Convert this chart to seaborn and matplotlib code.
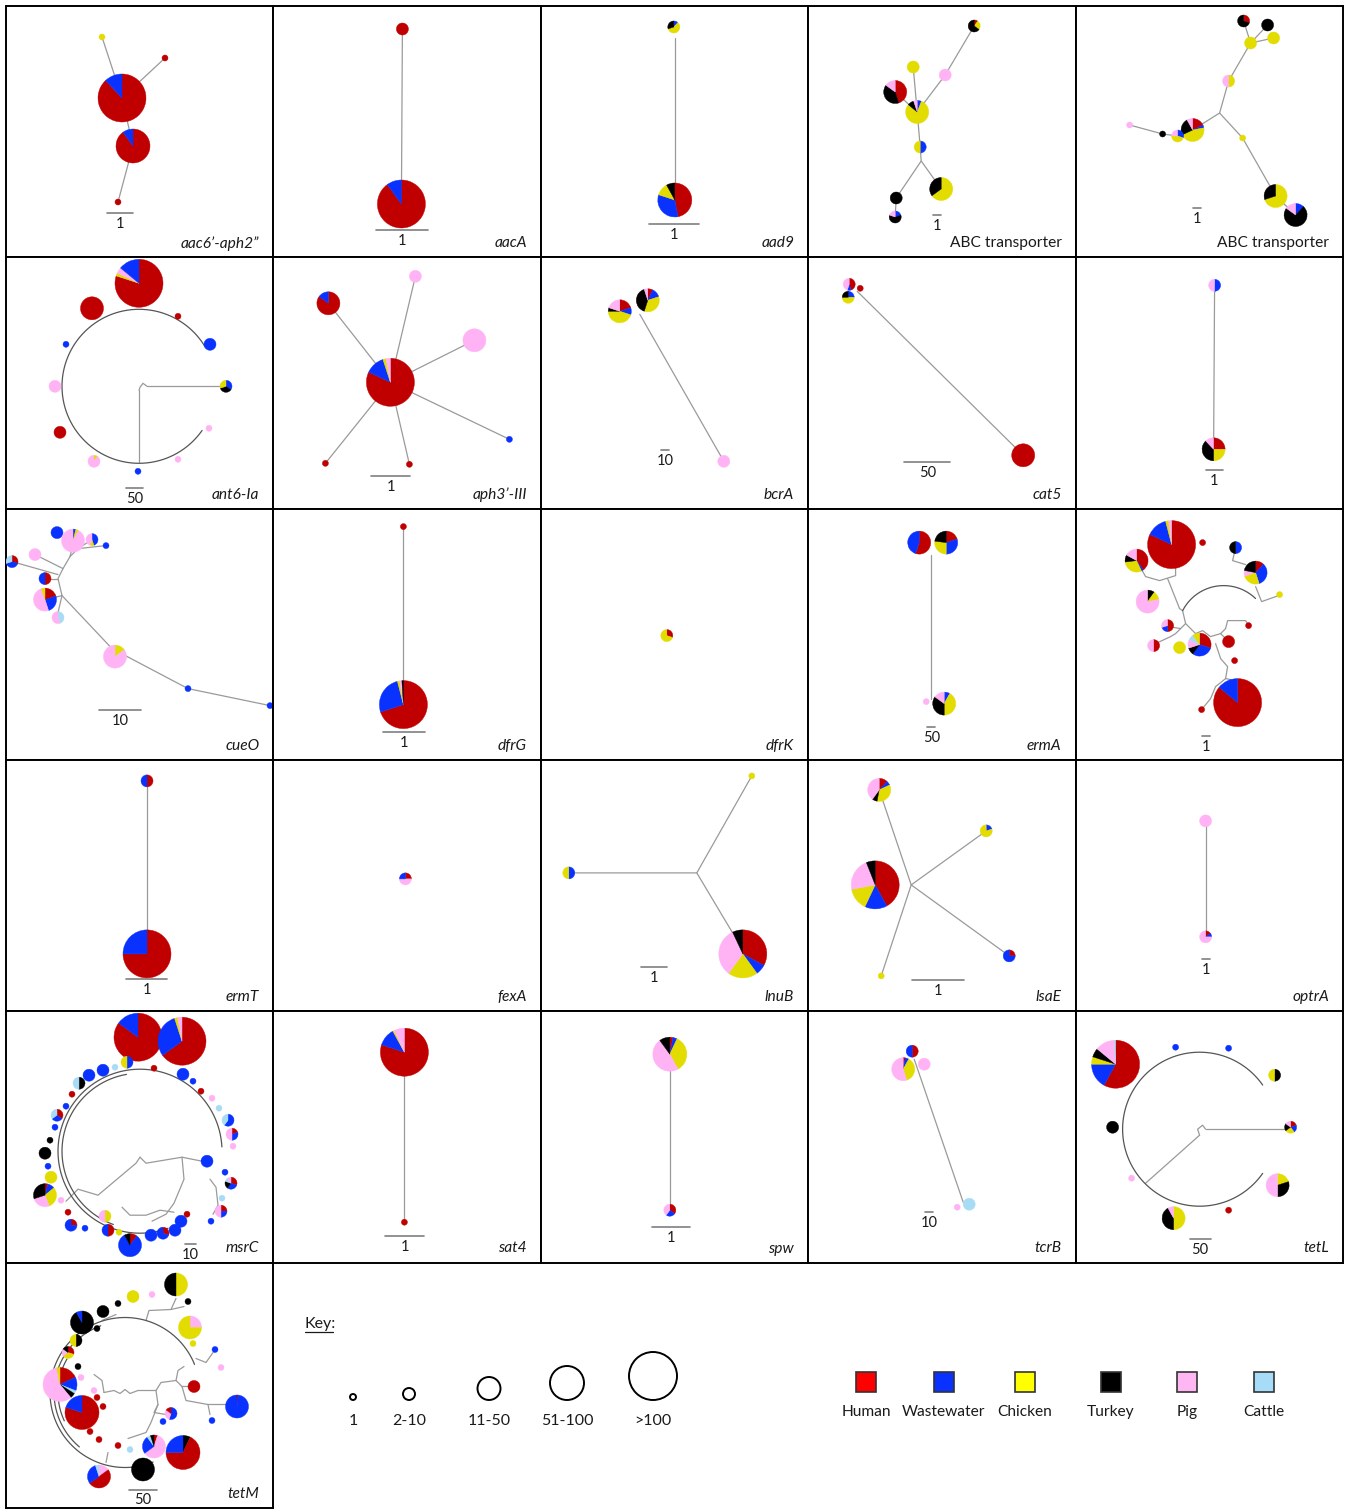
import numpy as np
import matplotlib
matplotlib.use("Agg")
import matplotlib.pyplot as plt
from matplotlib.patches import Wedge, Circle, Rectangle
import seaborn as sns

sns.set_theme(style="white")
plt.rcParams["font.family"] = ["Lato", "DejaVu Sans"]

# =============================================================================
# DATA
# =============================================================================

# sources and their short codes used in the node compositions
sources = ["Human", "Wastewater", "Chicken", "Turkey", "Pig", "Cattle"]
codes = ["H", "W", "C", "T", "P", "K"]
size_classes = ["1", "2-10", "11-50", "51-100", ">100"]

# nodes: (x, y, size class 1-5, composition clockwise from 12 o'clock)
# x, y are in panel pixels (origin top-left of the panel)
aac6_nodes = [(96, 31, 1, "C"), (159, 52, 1, "H"),
              (116, 92, 5, {"H": .88, "W": .12}),
              (127, 140, 4, {"H": .9, "W": .1}), (112, 196, 1, "H")]
aac6_edges = [(0, 2), (1, 2), (2, 3), (3, 4)]

aacA_nodes = [(129, 23, 2, "H"), (128, 198, 5, {"H": .9, "W": .1})]
aacA_edges = [(0, 1)]

aad9_nodes = [(133, 21, 2, {"W": .12, "C": .58, "T": .3}),
              (134, 194, 4, {"H": .47, "W": .33, "C": .12, "T": .08})]
aad9_lines = [[(134, 32), (134, 178)]]

abc1_nodes = [(166, 20, 2, {"H": .1, "C": .25, "T": .65}), (105, 61, 2, "C"),
              (137, 69, 2, "P"), (87, 86, 3, {"H": .45, "T": .4, "P": .15}),
              (109, 106, 3, {"W": .06, "C": .8, "T": .09, "P": .05}),
              (112, 141, 2, {"W": .5, "C": .5}), (88, 192, 2, "T"),
              (133, 183, 3, {"C": .65, "T": .35}),
              (87, 211, 2, {"W": .2, "T": .6, "P": .2})]
abc1_edges = [(0, 2), (2, 4), (1, 4), (3, 4), (4, 5), (6, 8)]
abc1_lines = [[(112, 141), (113, 155), (88, 192)], [(113, 155), (133, 183)]]

abc2_nodes = [(168, 15, 2, {"H": .3, "T": .7}), (192, 19, 2, "T"),
              (175, 37, 2, "C"), (198, 32, 2, "C"),
              (153, 75, 2, {"C": .5, "P": .5}), (167, 132, 1, "C"),
              (200, 190, 3, {"C": .7, "T": .3}),
              (220, 209, 3, {"W": .12, "T": .73, "P": .15}),
              (117, 124, 3, {"H": .18, "W": .04, "C": .46, "T": .24, "P": .08}),
              (102, 130, 2, {"W": .3, "C": .45, "P": .25}),
              (87, 128, 1, "T"), (54, 119, 1, "P")]
abc2_edges = [(0, 2), (1, 2), (3, 2), (2, 4), (6, 7), (8, 9), (9, 10),
              (10, 11), (5, 6)]
abc2_lines = [[(153, 75), (144, 107), (117, 124)], [(144, 107), (167, 132)]]

ant6_nodes = [(133, 26, 5, {"H": .8, "C": .02, "P": .04, "W": .14}),
              (86, 51, 3, "H"), (172, 59, 1, "H"), (204, 87, 2, "W"),
              (60, 87, 1, "W"), (220, 129, 2, {"W": .35, "T": .35, "C": .3}),
              (49, 129, 2, "P"), (54, 175, 2, "H"), (203, 171, 1, "P"),
              (88, 204, 2, {"C": .1, "P": .9}), (172, 202, 1, "P"),
              (132, 214, 1, "W")]
ant6_lines = [[(141, 129), (214, 129)], [(133, 133), (133, 205)],
              [(141, 129), (137, 126), (134, 130), (133, 133)]]
ant6_arcs = [(133, 129, 77, 31, 325)]

aph3_nodes = [(117, 125, 5, {"H": .82, "W": .13, "C": .02, "P": .03}),
              (55, 46, 3, {"H": .85, "W": .15}), (142, 19, 2, "P"),
              (201, 83, 3, "P"), (236, 182, 1, "W"), (52, 206, 1, "H"),
              (136, 207, 1, "H")]
aph3_edges = [(0, 1), (0, 2), (0, 3), (0, 4), (0, 5), (0, 6)]

bcrA_nodes = [(79, 54, 3, {"H": .2, "W": .1, "C": .45, "T": .05, "P": .2}),
              (107, 43, 3, {"H": .07, "W": .13, "C": .35, "T": .4, "P": .05}),
              (183, 204, 2, "P")]
bcrA_lines = [[(99, 57), (183, 204)]]

cat5_nodes = [(41, 27, 2, {"H": .45, "W": .1, "P": .45}), (52, 31, 1, "H"),
              (40, 40, 2, {"W": .25, "C": .5, "T": .25}), (215, 198, 3, "H")]
cat5_lines = [[(49, 34), (215, 198)]]

p10_nodes = [(139, 28, 2, {"W": .5, "P": .5}),
             (138, 192, 3, {"H": .25, "C": .25, "T": .38, "P": .12})]
p10_edges = [(0, 1)]

cueO_nodes = [(51, 24, 2, "W"), (67, 32, 3, {"W": .04, "C": .04, "P": .92}),
              (86, 31, 2, {"W": .45, "C": .1, "P": .45}), (100, 37, 1, "W"),
              (29, 46, 2, "P"), (6, 53, 2, {"H": .3, "W": .4, "K": .3}),
              (39, 70, 2, {"H": .5, "W": .5}),
              (39, 91, 3, {"H": .2, "W": .25, "P": .5, "C": .05}),
              (52, 109, 2, {"K": .45, "P": .55}),
              (109, 148, 3, {"C": .15, "P": .85}), (182, 180, 1, "W"),
              (264, 197, 1, "W")]
cueO_lines = [[(264, 197), (182, 180), (106, 140), (56, 87), (52, 70),
               (57, 60), (64, 48), (72, 40)],
              [(56, 87), (52, 104)], [(52, 70), (39, 70)], [(52, 66), (6, 53)],
              [(57, 60), (29, 46)], [(64, 48), (67, 36)], [(72, 40), (86, 31)],
              [(72, 40), (100, 37)], [(56, 87), (39, 91)]]

dfrG_nodes = [(130, 18, 1, "H"),
              (130, 196, 5, {"H": .7, "W": .26, "C": .015, "P": .015, "T": .01})]
dfrG_edges = [(0, 1)]

dfrK_nodes = [(126, 127, 2, {"H": .3, "C": .7})]

ermA_nodes = [(111, 34, 3, {"H": .55, "W": .45}),
              (138, 34, 3, {"H": .2, "W": .3, "C": .27, "T": .23}),
              (136, 195, 3, {"W": .08, "C": .42, "T": .35, "P": .15}),
              (118, 193, 1, "P")]
ermA_lines = [[(123, 46), (123, 190)]]

p15_nodes = [(96, 36, 5, {"H": .82, "W": .14, "C": .02, "P": .02}),
             (127, 34, 1, "H"),
             (61, 52, 3, {"H": .4, "W": .03, "C": .3, "T": .1, "P": .17}),
             (160, 39, 2, {"W": .5, "T": .5}),
             (180, 64, 3, {"H": .12, "W": .33, "C": .25, "P": .08, "T": .22}),
             (204, 86, 1, "C"), (72, 93, 3, {"T": .1, "C": .12, "P": .78}),
             (92, 117, 2, {"H": .5, "W": .2, "P": .3}), (173, 117, 1, "H"),
             (78, 137, 2, {"H": .5, "P": .5}), (104, 139, 2, "C"),
             (124, 136, 3, {"H": .3, "W": .3, "T": .1, "P": .12, "K": .08, "C": .1}),
             (153, 133, 2, "H"), (159, 152, 1, "H"),
             (162, 194, 5, {"H": .86, "W": .14}), (126, 201, 1, "H")]
p15_lines = [[(61, 52), (70, 68), (84, 72), (100, 67), (100, 57)],
             [(92, 70), (104, 100), (107, 102)],
             [(160, 39), (157, 52), (170, 56)],
             [(180, 78), (186, 93), (203, 87)],
             [(107, 102), (110, 115), (105, 120), (100, 125), (95, 128), (80, 135)],
             [(105, 120), (93, 118)],
             [(110, 115), (120, 125), (127, 122), (135, 128), (145, 125),
              (150, 120), (152, 112), (170, 112), (173, 117)],
             [(145, 125), (153, 133)],
             [(140, 135), (145, 150), (152, 158), (150, 170), (140, 178),
              (135, 190), (126, 201)],
             [(150, 170), (160, 172)]]
p15_arcs = [(148, 123, 46, 46, 153)]

ermT_nodes = [(141, 21, 2, {"H": .5, "W": .5}), (141, 194, 5, {"H": .75, "W": .25})]
ermT_edges = [(0, 1)]

fexA_nodes = [(132, 119, 2, {"H": .25, "P": .5, "W": .25})]

lnuB_nodes = [(211, 16, 1, "C"), (28, 113, 2, {"W": .5, "C": .5}),
              (202, 194, 5, {"H": .33, "W": .07, "C": .2, "P": .33, "T": .07})]
lnuB_lines = [[(28, 113), (156, 113), (211, 16)], [(156, 113), (196, 180)]]

lsaE_nodes = [(71, 30, 3, {"H": .12, "W": .06, "C": .35, "T": .07, "P": .4}),
              (178, 71, 2, {"W": .2, "C": .8}),
              (67, 125, 5, {"H": .42, "W": .15, "C": .15, "P": .22, "T": .06}),
              (201, 196, 2, {"H": .25, "W": .75}), (73, 216, 1, "C")]
lsaE_lines = [[(71, 30), (103, 125), (73, 216)], [(103, 125), (178, 71)],
              [(103, 125), (201, 196)]]

optrA_nodes = [(130, 61, 2, "P"), (130, 177, 2, {"H": .15, "W": .1, "P": .75})]
optrA_edges = [(0, 1)]

msrC_nodes = [(132, 26, 5, {"H": .85, "W": .15}),
              (176, 30, 5, {"H": .65, "W": .3, "C": .02, "P": .03}),
              (121, 51, 2, {"W": .5, "C": .5}), (148, 57, 1, "H"),
              (109, 56, 1, "K"), (97, 59, 2, "W"), (83, 64, 2, "W"),
              (73, 72, 2, {"T": .5, "K": .5}), (66, 83, 1, "H"), (60, 95, 1, "W"),
              (51, 104, 2, {"H": .35, "W": .3, "K": .35}), (49, 116, 1, "W"),
              (44, 129, 1, "T"), (39, 142, 2, "T"), (42, 155, 1, "W"),
              (45, 166, 2, "C"),
              (39, 184, 3, {"H": .04, "W": .1, "C": .3, "P": .26, "T": .3}),
              (55, 189, 1, "P"), (62, 201, 1, "H"),
              (65, 214, 2, {"H": .25, "W": .75}), (79, 217, 1, "W"),
              (99, 205, 2, {"C": .5, "P": .5}), (102, 219, 2, {"H": .5, "W": .5}),
              (113, 221, 1, "C"),
              (124, 234, 3, {"H": .1, "W": .82, "T": .08}), (145, 224, 2, "W"),
              (157, 222, 2, {"H": .3, "W": .7}), (169, 219, 2, "W"),
              (175, 210, 2, "W"), (181, 203, 1, "H"), (205, 210, 1, "W"),
              (215, 200, 2, {"H": .25, "W": .25, "P": .5}), (216, 187, 1, "K"),
              (225, 172, 2, {"H": .3, "W": .3, "T": .2, "K": .1, "P": .1}),
              (219, 161, 1, "W"), (201, 150, 2, "W"), (227, 135, 1, "P"),
              (226, 123, 2, {"H": .2, "W": .3, "P": .5}),
              (222, 109, 2, {"W": .6, "K": .4}), (213, 97, 1, "K"),
              (206, 87, 1, "P"), (195, 80, 1, "H"), (187, 70, 1, "W"),
              (177, 63, 2, "W")]
msrC_lines = [[(60, 190), (72, 178), (92, 184), (130, 152), (134, 146)],
              [(134, 146), (140, 152), (176, 146), (196, 150)],
              [(176, 146), (178, 168), (168, 192), (160, 203), (146, 210)],
              [(116, 196), (124, 204), (140, 204), (154, 199), (168, 201)],
              [(204, 168), (210, 176), (212, 194), (207, 203)]]
msrC_arcs = [(134, 140, 82, 3, 290), (134, 140, 78, 100, 250)]

sat4_nodes = [(131, 41, 5, {"H": .8, "W": .12, "C": .01, "P": .07}),
              (131, 211, 1, "H")]
sat4_edges = [(0, 1)]

spw_nodes = [(129, 43, 4, {"H": .03, "W": .04, "C": .35, "P": .48, "T": .1}),
             (129, 199, 2, {"H": .35, "W": .25, "P": .4})]
spw_edges = [(0, 1)]

tcrB_nodes = [(104, 40, 2, {"H": .5, "W": .5}), (116, 53, 2, "P"),
              (95, 58, 3, {"H": .03, "W": .05, "C": .37, "P": .55}),
              (149, 196, 1, "P"), (161, 193, 2, "K")]
tcrB_lines = [[(106, 48), (155, 191)]]

tetL_nodes = [(40, 53, 5, {"H": .58, "W": .17, "C": .05, "T": .06, "P": .13, "K": .01}),
              (100, 36, 1, "W"), (153, 37, 1, "W"), (199, 64, 2, {"T": .5, "C": .5}),
              (37, 116, 2, "T"),
              (215, 116, 2, {"H": .2, "W": .2, "C": .25, "T": .2, "P": .15}),
              (56, 167, 1, "P"), (202, 174, 3, {"C": .2, "T": .3, "P": .5}),
              (98, 207, 3, {"C": .5, "T": .42, "P": .08}), (153, 199, 1, "H")]
tetL_lines = [[(130, 118), (210, 118)], [(124, 124), (70, 172)],
              [(130, 118), (127, 114), (122, 118), (124, 124)]]
tetL_arcs = [(124, 118, 77, 35, 325)]

tetM_nodes = [(170, 22, 3, {"C": .5, "T": .5}), (127, 34, 2, "C"),
              (146, 32, 1, "P"), (182, 39, 1, "T"), (112, 41, 1, "T"),
              (97, 49, 2, "T"), (76, 60, 3, {"T": .92, "W": .08}),
              (184, 65, 3, {"P": .25, "C": .75}), (91, 66, 1, "T"),
              (187, 81, 1, "C"), (70, 78, 2, {"T": .5, "C": .5}),
              (62, 90, 2, {"H": .3, "C": .35, "P": .2, "T": .15}),
              (209, 87, 1, "W"), (72, 104, 1, "T"), (215, 105, 1, "P"),
              (75, 115, 1, "P"),
              (54, 122, 4, {"H": .18, "W": .13, "K": .03, "T": .05, "P": .58, "C": .03}),
              (188, 124, 2, "H"), (88, 128, 1, "P"), (91, 135, 1, "H"),
              (97, 144, 1, "H"), (76, 150, 4, {"H": .8, "W": .2}),
              (231, 144, 3, {"H": .02, "W": .98}),
              (165, 151, 2, {"W": .55, "P": .3, "H": .15}), (157, 159, 1, "W"),
              (206, 158, 1, "W"), (84, 169, 1, "H"), (93, 177, 1, "H"),
              (112, 183, 1, "H"), (124, 187, 1, "K"),
              (148, 184, 3, {"H": .05, "P": .6, "W": .25, "K": .05, "T": .05}),
              (177, 190, 4, {"T": .07, "H": .68, "W": .25}), (137, 207, 3, "T"),
              (93, 214, 3, {"P": .15, "H": .5, "W": .3, "K": .05})]
tetM_lines = [[(98, 130), (108, 128), (114, 131), (119, 127), (124, 131),
               (132, 128), (150, 128)],
              [(98, 130), (96, 118), (88, 112)],
              [(150, 128), (155, 120), (170, 118), (176, 124), (186, 124)],
              [(170, 118), (172, 108), (178, 104)],
              [(176, 124), (180, 138), (202, 142), (222, 142)],
              [(202, 142), (204, 152)],
              [(150, 128), (152, 142), (148, 150), (160, 152)],
              [(152, 142), (145, 160), (140, 170), (122, 176)],
              [(140, 58), (143, 48), (165, 47), (170, 36)],
              [(165, 47), (178, 44)], [(96, 58), (110, 52)],
              [(190, 96), (200, 100), (207, 90)],
              [(102, 190), (100, 200)]]
tetM_arcs = [(119, 130, 75, 22, 292), (119, 130, 71, 110, 230),
             (119, 130, 67, 150, 205)]

# scale bars: (x start, x end, y, label)
scales = {
    "aac6": (101, 127, 207, "1"), "aacA": (103, 155, 224, "1"),
    "aad9": (108, 158, 218, "1"), "abc1": (125, 133, 209, "1"),
    "abc2": (117, 125, 202, "1"), "ant6": (120, 137, 231, "50"),
    "aph3": (98, 137, 219, "1"), "bcrA": (120, 128, 193, "10"),
    "cat5": (96, 142, 205, "50"), "p10": (130, 147, 213, "1"),
    "cueO": (93, 135, 201, "10"), "dfrG": (110, 152, 223, "1"),
    "ermA": (119, 127, 218, "50"), "p15": (126, 134, 227, "1"),
    "ermT": (120, 161, 219, "1"), "lnuB": (100, 126, 207, "1"),
    "lsaE": (104, 156, 220, "1"), "optrA": (126, 134, 199, "1"),
    "msrC": (179, 190, 233, "10"), "sat4": (112, 151, 225, "1"),
    "spw": (111, 149, 216, "1"), "tcrB": (117, 125, 201, "10"),
    "tetL": (114, 135, 228, "50"), "tetM": (123, 151, 227, "50"),
}

# panels: (key, gene label, italic, nodes, edges, lines, arcs)
panels = [
    ("aac6", "aac6’-aph2”", True, aac6_nodes, aac6_edges, [], []),
    ("aacA", "aacA", True, aacA_nodes, aacA_edges, [], []),
    ("aad9", "aad9", True, aad9_nodes, [], aad9_lines, []),
    ("abc1", "ABC transporter", False, abc1_nodes, abc1_edges, abc1_lines, []),
    ("abc2", "ABC transporter", False, abc2_nodes, abc2_edges, abc2_lines, []),
    ("ant6", "ant6-Ia", True, ant6_nodes, [], ant6_lines, ant6_arcs),
    ("aph3", "aph3’-III", True, aph3_nodes, aph3_edges, [], []),
    ("bcrA", "bcrA", True, bcrA_nodes, [], bcrA_lines, []),
    ("cat5", "cat5", True, cat5_nodes, [], cat5_lines, []),
    ("p10", None, True, p10_nodes, p10_edges, [], []),
    ("cueO", "cueO", True, cueO_nodes, [], cueO_lines, []),
    ("dfrG", "dfrG", True, dfrG_nodes, dfrG_edges, [], []),
    ("dfrK", "dfrK", True, dfrK_nodes, [], [], []),
    ("ermA", "ermA", True, ermA_nodes, [], ermA_lines, []),
    ("p15", None, True, p15_nodes, [], p15_lines, p15_arcs),
    ("ermT", "ermT", True, ermT_nodes, ermT_edges, [], []),
    ("fexA", "fexA", True, fexA_nodes, [], [], []),
    ("lnuB", "lnuB", True, lnuB_nodes, [], lnuB_lines, []),
    ("lsaE", "lsaE", True, lsaE_nodes, [], lsaE_lines, []),
    ("optrA", "optrA", True, optrA_nodes, optrA_edges, [], []),
    ("msrC", "msrC", True, msrC_nodes, [], msrC_lines, msrC_arcs),
    ("sat4", "sat4", True, sat4_nodes, sat4_edges, [], []),
    ("spw", "spw", True, spw_nodes, spw_edges, [], []),
    ("tcrB", "tcrB", True, tcrB_nodes, [], tcrB_lines, []),
    ("tetL", "tetL", True, tetL_nodes, [], tetL_lines, tetL_arcs),
    ("tetM", "tetM", True, tetM_nodes, [], tetM_lines, tetM_arcs),
]

# =============================================================================
# STYLE
# =============================================================================

W, H = 1350, 1509
pie_colors = dict(zip(codes, sns.color_palette(
    ["#c00000", "#0a32ff", "#e3dc00", "#000000", "#ffb3f5", "#a8dcf5"])))
key_colors = dict(zip(codes, sns.color_palette(
    ["#ff0000", "#0a32ff", "#ffff00", "#000000", "#ffb7f3", "#a6dcf8"])))
class_radius = {1: 3, 2: 6, 3: 11.5, 4: 17, 5: 24}
edge_color = "#9a9a9a"
arc_color = "#555555"
cell_w, cell_h = 267.4, 251.3


def draw_pie(ax, x, y, r, comp):
    if isinstance(comp, str):
        comp = {comp: 1.0}
    total = sum(comp.values())
    start = -90.0
    for code, frac in comp.items():
        sweep = 360.0 * frac / total
        col = pie_colors[code]
        ax.add_patch(Wedge((x, y), r, start, start + sweep, facecolor=col,
                           edgecolor=col, linewidth=0.3, zorder=3))
        start += sweep


def draw_arc(ax, cx, cy, r, a1, a2):
    phi = np.radians(np.linspace(a1, a2, 300))
    ax.plot(cx + r * np.cos(phi), cy - r * np.sin(phi), color=arc_color,
            lw=0.9, zorder=1)


fig = plt.figure(figsize=(W / 100, H / 100), dpi=100)
fig.patch.set_facecolor("white")

for i, (key, label, italic, nodes, edges, lines, arcs) in enumerate(panels):
    col, row = i % 5, i // 5
    x0, y0 = 6 + col * cell_w, 6 + row * cell_h
    w, h = cell_w, min(cell_h, H - y0 - 1.5)
    ax = fig.add_axes([x0 / W, 1 - (y0 + h) / H, w / W, h / H])
    ax.set_xlim(0, w)
    ax.set_ylim(h, 0)
    ax.set_xticks([])
    ax.set_yticks([])
    ax.set_facecolor("white")
    for s in ax.spines.values():
        s.set_color("black")
        s.set_linewidth(1.4)

    for a, b in edges:
        ax.plot([nodes[a][0], nodes[b][0]], [nodes[a][1], nodes[b][1]],
                color=edge_color, lw=0.9, zorder=1)
    for pl in lines:
        pts = np.array(pl)
        ax.plot(pts[:, 0], pts[:, 1], color=edge_color, lw=0.9, zorder=1)
    for cx, cy, r, a1, a2 in arcs:
        draw_arc(ax, cx, cy, r, a1, a2)
    for x, y, cls, comp in nodes:
        draw_pie(ax, x, y, class_radius[cls], comp)

    if key in scales:
        sx1, sx2, sy, stxt = scales[key]
        ax.plot([sx1, sx2], [sy, sy], color="#7f7f7f", lw=1.2)
        ax.text((sx1 + sx2) / 2, sy + 4, stxt, ha="center", va="top",
                fontsize=10.5, color="#1a1a1a")
    if label:
        ax.text(w - 14, h - 14, label, ha="right", va="center", fontsize=11.2,
                style="italic" if italic else "normal", color="#1a1a1a")

# =============================================================================
# KEY
# =============================================================================

kax = fig.add_axes([273 / W, 0, (1343 - 273) / W, (H - 1263) / H])
kax.set_xlim(273, 1343)
kax.set_ylim(H, 1263)
kax.axis("off")

kax.text(305, 1324, "Key:", ha="left", va="center", fontsize=11.5, color="#1a1a1a")
kax.plot([305, 333], [1332, 1332], color="#1a1a1a", lw=0.9)

size_x = [353, 409, 489, 567, 653]
for sx, (cls, txt) in zip(size_x, enumerate(size_classes, start=1)):
    r = class_radius[cls]
    kax.add_patch(Circle((sx, 1400 - r), r, facecolor="white",
                         edgecolor="black", lw=1.4))
    kax.text(sx, 1421, txt, ha="center", va="center", fontsize=11.5,
             color="#1a1a1a")

src_x = [866, 944, 1025, 1111, 1187, 1264]
for sx, code, name in zip(src_x, codes, sources):
    kax.add_patch(Rectangle((sx - 10, 1372), 20, 20, facecolor=key_colors[code],
                            edgecolor="#333333", lw=1.2))
    kax.text(sx, 1412, name, ha="center", va="center", fontsize=11.2,
             color="#1a1a1a")

fig.savefig("out.png", dpi=100, facecolor="white")
